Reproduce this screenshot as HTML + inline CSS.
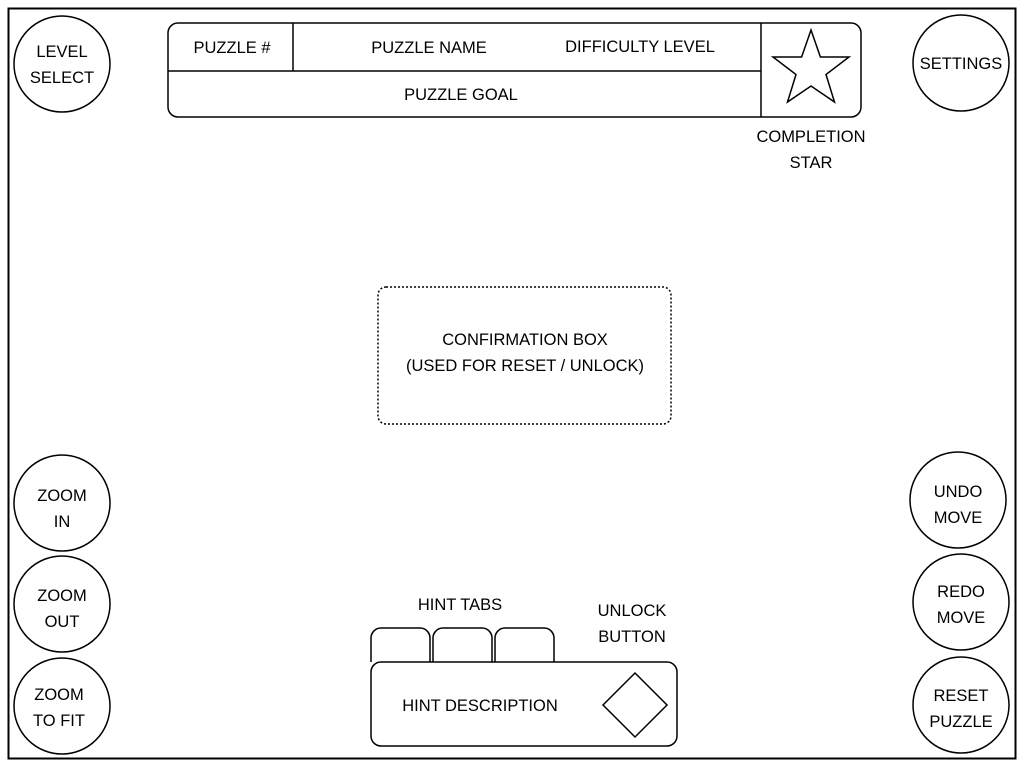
<!DOCTYPE html>
<html><head><meta charset="utf-8"><style>
html,body{margin:0;padding:0;background:#fff;}
svg{display:block;}
text{font-family:"Liberation Sans",sans-serif;font-size:16.5px;fill:#000;text-anchor:middle;}
</style></head><body>
<svg width="1024" height="768" viewBox="0 0 1024 768" xmlns="http://www.w3.org/2000/svg">
<rect x="8.5" y="8.5" width="1007" height="750" fill="none" stroke="#000" stroke-width="2"/>
<g fill="none" stroke="#000" stroke-width="1.5">
<circle cx="62" cy="64" r="48"/>
<circle cx="961" cy="63" r="48"/>
<circle cx="62" cy="503" r="48"/>
<circle cx="62" cy="604" r="48"/>
<circle cx="62" cy="706" r="48"/>
<circle cx="958" cy="500" r="48"/>
<circle cx="961" cy="602" r="48"/>
<circle cx="961" cy="705" r="48"/>
<rect x="168" y="23" width="693" height="94" rx="10"/>
<line x1="168" y1="71" x2="761" y2="71"/>
<line x1="293" y1="23" x2="293" y2="71"/>
<line x1="761" y1="23" x2="761" y2="117"/>
<polygon points="811,30 820.4,57 849,57 826,74.5 834.5,102 811,86 787.5,102 796,74.5 773,57 801.6,57"/>
<rect x="378" y="287" width="293" height="137" rx="8" stroke-dasharray="2,2"/>
<path d="M371,662 V638 a10,10 0 0 1 10,-10 H420 a10,10 0 0 1 10,10 V662"/>
<path d="M433,662 V638 a10,10 0 0 1 10,-10 H482 a10,10 0 0 1 10,10 V662"/>
<path d="M495,662 V638 a10,10 0 0 1 10,-10 H544 a10,10 0 0 1 10,10 V662"/>
<rect x="371" y="662" width="306" height="84" rx="10"/>
<polygon points="635,673 667,705 635,737 603,705"/>
</g>
<text x="62" y="57">LEVEL</text><text x="62" y="83">SELECT</text>
<text x="961" y="69">SETTINGS</text>
<text x="62" y="501">ZOOM</text><text x="62" y="527">IN</text>
<text x="62" y="601">ZOOM</text><text x="62" y="627">OUT</text>
<text x="59" y="700">ZOOM</text><text x="59" y="726">TO FIT</text>
<text x="958" y="497">UNDO</text><text x="958" y="523">MOVE</text>
<text x="961" y="597">REDO</text><text x="961" y="623">MOVE</text>
<text x="961" y="701">RESET</text><text x="961" y="727">PUZZLE</text>
<text x="232" y="53">PUZZLE #</text>
<text x="429" y="53">PUZZLE NAME</text>
<text x="640" y="52">DIFFICULTY LEVEL</text>
<text x="461" y="100">PUZZLE GOAL</text>
<text x="811" y="142">COMPLETION</text><text x="811" y="168">STAR</text>
<text x="525" y="345">CONFIRMATION BOX</text>
<text x="525" y="371">(USED FOR RESET / UNLOCK)</text>
<text x="460" y="610">HINT TABS</text>
<text x="632" y="616">UNLOCK</text><text x="632" y="642">BUTTON</text>
<text x="480" y="711">HINT DESCRIPTION</text>
</svg>
</body></html>
